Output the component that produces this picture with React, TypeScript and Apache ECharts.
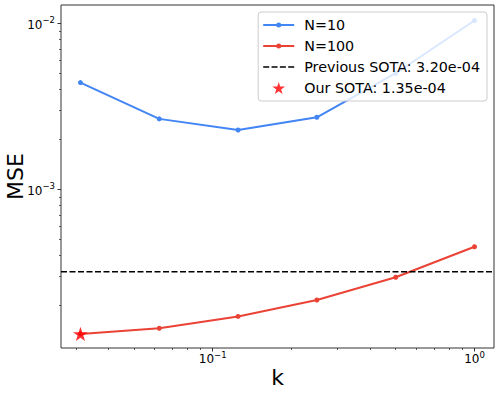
import React, { useEffect, useRef } from 'react';
import * as echarts from 'echarts';

const kValues = [0.03125, 0.0625, 0.125, 0.25, 0.5, 1];
const mseN10 = [4.4e-3, 2.66e-3, 2.28e-3, 2.72e-3, 5.01e-3, 1.04e-2];
const mseN100 = [1.35e-4, 1.46e-4, 1.72e-4, 2.16e-4, 2.96e-4, 4.52e-4];
const previousSota = 3.2e-4;
const ourSotaK = [0.03125];
const ourSotaMse = [1.35e-4];
const seriesNames = ['N=10', 'N=100', 'Previous SOTA: 3.20e-04', 'Our SOTA: 1.35e-04'];
const xMajorTicks = [0.1, 1];
const xMinorTicks = [0.03, 0.04, 0.05, 0.06, 0.07, 0.08, 0.09, 0.2, 0.3, 0.4, 0.5, 0.6, 0.7, 0.8, 0.9];
const yMajorTicks = [1e-3, 1e-2];
const yMinorTicks = [2e-4, 3e-4, 4e-4, 5e-4, 6e-4, 7e-4, 8e-4, 9e-4, 2e-3, 3e-3, 4e-3, 5e-3, 6e-3, 7e-3, 8e-3, 9e-3];
const xRange = [0.02634, 1.187];
const yRange = [1.11e-4, 1.29e-2];

const FONT = 'DejaVu Sans';
const BLUE = '#4285f4';
const RED = '#ea4335';
const STAR = 'path://M50,0 L61.2,34.5 L97.6,34.5 L68.2,55.9 L79.4,90.5 L50,69.1 L20.6,90.5 L31.8,55.9 L2.4,34.5 L38.8,34.5 Z';
const LINE_DOT = 'path://M0,1.5 L31,1.5 L31,3.5 L0,3.5 Z M13,2.5 A2.5,2.5 0 1,1 18,2.5 A2.5,2.5 0 1,1 13,2.5 Z';
const DASH = 'path://M0,0 L6,0 L6,1.6 L0,1.6 Z M8.3,0 L14.3,0 L14.3,1.6 L8.3,1.6 Z M16.6,0 L22.6,0 L22.6,1.6 L16.6,1.6 Z M24.9,0 L30.9,0 L30.9,1.6 L24.9,1.6 Z';

const powLabel = (v: number) => {
  const e = Math.round(Math.log10(v));
  return `{b|10}{s|${e < 0 ? '\u2212' : ''}${Math.abs(e)}}`;
};

const richStyle = {
  b: { fontSize: 12, fontFamily: FONT, color: '#000', lineHeight: 15, verticalAlign: 'bottom' },
  s: { fontSize: 8.5, fontFamily: FONT, color: '#000', lineHeight: 10, verticalAlign: 'top' },
};

export default function App() {
  const ref = useRef<HTMLDivElement>(null);
  useEffect(() => {
    if (!ref.current) return;
    const chart = echarts.init(ref.current, undefined, { renderer: 'svg' });
    const axisColor = '#333';
    chart.setOption({
      animation: false,
      backgroundColor: '#fff',
      textStyle: { fontFamily: FONT },
      grid: {
        left: 61, top: 5, right: 5, bottom: 46, show: true, borderColor: axisColor, borderWidth: 1,
        backgroundColor: 'transparent', containLabel: false, outerBoundsMode: 'none',
      },
      legend: {
        orient: 'vertical',
        right: 12,
        top: 12,
        itemWidth: 31,
        itemHeight: 12,
        itemGap: 5,
        padding: [5, 7, 5, 5],
        backgroundColor: 'rgba(255,255,255,0.8)',
        borderColor: '#cccccc',
        borderWidth: 1,
        borderRadius: 3,
        selectedMode: false,
        textStyle: { fontSize: 14.3, fontFamily: FONT, color: '#000', lineHeight: 16, padding: [0, 0, 0, 5] },
        data: [
          { name: seriesNames[0], icon: LINE_DOT },
          { name: seriesNames[1], icon: LINE_DOT },
          { name: seriesNames[2], icon: DASH },
          { name: seriesNames[3], icon: STAR },
        ],
      },
      xAxis: [
        {
          type: 'log', logBase: 10, min: xRange[0], max: xRange[1], position: 'bottom',
          name: 'k', nameLocation: 'middle', nameGap: 18, nameMoveOverlap: false,
          nameTextStyle: { fontSize: 22, fontFamily: FONT, color: '#000' },
          axisLine: { show: false },
          splitLine: { show: false },
          axisTick: { show: true, length: 3.5, customValues: xMajorTicks, lineStyle: { color: axisColor, width: 1 } },
          axisLabel: { show: true, margin: 2, customValues: xMajorTicks, formatter: powLabel, rich: richStyle },
        },
        {
          type: 'log', logBase: 10, min: xRange[0], max: xRange[1], position: 'bottom',
          axisLine: { show: false },
          splitLine: { show: false },
          axisTick: { show: true, length: 2, customValues: xMinorTicks, lineStyle: { color: axisColor, width: 0.8 } },
          axisLabel: { show: false, customValues: xMinorTicks },
        },
      ],
      yAxis: [
        {
          type: 'log', logBase: 10, min: yRange[0], max: yRange[1], position: 'left',
          name: 'MSE', nameLocation: 'middle', nameGap: 35, nameRotate: 90, nameMoveOverlap: false,
          nameTextStyle: { fontSize: 22, fontFamily: FONT, color: '#000' },
          axisLine: { show: false },
          splitLine: { show: false },
          axisTick: { show: true, length: 3.5, customValues: yMajorTicks, lineStyle: { color: axisColor, width: 1 } },
          axisLabel: { show: true, margin: 6, customValues: yMajorTicks, formatter: powLabel, rich: richStyle },
        },
        {
          type: 'log', logBase: 10, min: yRange[0], max: yRange[1], position: 'left',
          axisLine: { show: false },
          splitLine: { show: false },
          axisTick: { show: true, length: 2, customValues: yMinorTicks, lineStyle: { color: axisColor, width: 0.8 } },
          axisLabel: { show: false, customValues: yMinorTicks },
        },
      ],
      series: [
        {
          name: seriesNames[0], type: 'line', xAxisIndex: 0, yAxisIndex: 0,
          data: kValues.map((k, i) => [k, mseN10[i]]),
          color: BLUE, symbol: 'circle', symbolSize: 5, showSymbol: true,
          lineStyle: { width: 2, color: BLUE }, itemStyle: { color: BLUE },
        },
        {
          name: seriesNames[1], type: 'line', xAxisIndex: 0, yAxisIndex: 0,
          data: kValues.map((k, i) => [k, mseN100[i]]),
          color: RED, symbol: 'circle', symbolSize: 5, showSymbol: true,
          lineStyle: { width: 2, color: RED }, itemStyle: { color: RED },
        },
        {
          name: seriesNames[2], type: 'line', xAxisIndex: 0, yAxisIndex: 0,
          data: xRange.map((x) => [x, previousSota]),
          color: '#000', itemStyle: { color: '#000' }, symbol: 'none', showSymbol: false,
          lineStyle: { color: '#000', width: 1.5, type: [6, 2.5] },
        },
        {
          name: seriesNames[3], type: 'scatter', xAxisIndex: 0, yAxisIndex: 0,
          data: ourSotaK.map((k, i) => [k, ourSotaMse[i]]),
          symbol: STAR, symbolSize: 15, symbolKeepAspect: true,
          color: '#ff0000', itemStyle: { color: '#ff0000' }, z: 5,
        },
      ],
    });
    return () => chart.dispose();
  }, []);
  return <div ref={ref} style={{ position: 'fixed', left: 0, top: 0, width: 499, height: 394 }} />;
}
